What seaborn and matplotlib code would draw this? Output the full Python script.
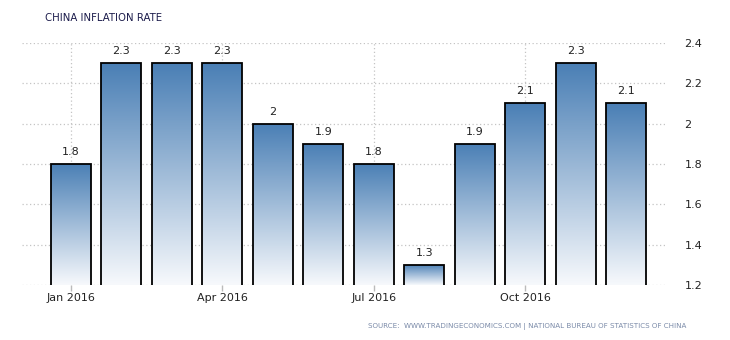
import matplotlib
matplotlib.use("Agg")
import matplotlib.pyplot as plt
import matplotlib.colors as mcolors
import numpy as np
import pandas as pd
import seaborn as sns

months = ["Jan 2016", "Feb 2016", "Mar 2016", "Apr 2016", "May 2016", "Jun 2016",
          "Jul 2016", "Aug 2016", "Sep 2016", "Oct 2016", "Nov 2016", "Dec 2016"]
values = [1.8, 2.3, 2.3, 2.3, 2.0, 1.9, 1.8, 1.3, 1.9, 2.1, 2.3, 2.1]
shown_ticks = ["Jan 2016", "Apr 2016", "Jul 2016", "Oct 2016"]
yticks = [1.2, 1.4, 1.6, 1.8, 2.0, 2.2, 2.4]

sns.set_style("white")
plt.rcParams['font.family'] = ['DejaVu Sans']

df = pd.DataFrame({"month": months, "value": values})

fig = plt.figure(figsize=(7.3, 3.4), dpi=100)
ax = fig.add_axes([22/730, 1-285/340, (665-22)/730, (285-43)/340])

sns.barplot(data=df, x="month", y="value", ax=ax, width=0.79, color="#4a7fb5",
            edgecolor="black", linewidth=1.3, zorder=3)

cmap = mcolors.LinearSegmentedColormap.from_list("g", ["#f7f9fc", "#4a7fb5"])
grad = np.linspace(0, 1, 256).reshape(-1, 1)
ax.set_ylim(1.2, 2.4)
for p in ax.patches:
    x0, y0 = p.get_x(), 1.2
    w, h = p.get_width(), p.get_y() + p.get_height()
    p.set_facecolor("none")
    p.set_joinstyle("miter")
    im = ax.imshow(grad, cmap=cmap, aspect="auto", origin="lower",
                   extent=[x0, x0 + w, y0, h], zorder=2, interpolation="bilinear")
    im.set_clip_path(p)
ax.set_xlim(-0.97, 11.77)
ax.set_ylim(1.2, 2.4)

for i, v in enumerate(values):
    ax.text(i, v + 0.035, f"{v:g}", ha="center", va="bottom", fontsize=8,
            color="#222222", zorder=4)

pos = [months.index(m) for m in shown_ticks]
ax.set_xticks(pos)
ax.set_xticklabels(shown_ticks, fontsize=8, color="#222222")
ax.set_yticks(yticks)
ax.set_yticklabels([f"{t:g}" for t in yticks], fontsize=8, color="#222222")
ax.yaxis.tick_right()
ax.tick_params(axis="y", length=0, pad=14)
ax.tick_params(axis="x", length=4, color="#bbbbbb", width=1, pad=2, bottom=True)
ax.set_xlabel("")
ax.set_ylabel("")

ax.grid(True, axis="both", linestyle=(0, (1, 2)), color="#c4c4c4", linewidth=0.9, zorder=0)
ax.set_axisbelow(True)
for s in ax.spines.values():
    s.set_visible(False)

fig.text(45/730, 1-18/340, "CHINA INFLATION RATE", fontsize=7.3, color="#1a1a4a",
         ha="left", va="center")
fig.text(686/730, 1-326/340,
         "SOURCE:  WWW.TRADINGECONOMICS.COM | NATIONAL BUREAU OF STATISTICS OF CHINA",
         fontsize=5.1, color="#7a8aa8", ha="right", va="center")

fig.savefig("out.png", dpi=100)
